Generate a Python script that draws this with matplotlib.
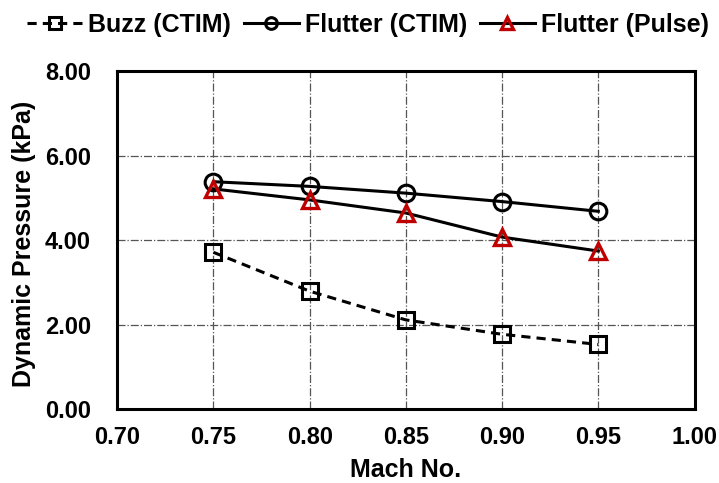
import matplotlib.pyplot as plt

plt.rcParams["font.family"] = ["Liberation Sans", "DejaVu Sans"]
plt.rcParams["font.weight"] = "bold"

mach = [0.75, 0.80, 0.85, 0.90, 0.95]
buzz_ctim = [3.71, 2.79, 2.11, 1.77, 1.53]
flutter_ctim = [5.38, 5.27, 5.11, 4.91, 4.68]
flutter_pulse = [5.21, 4.95, 4.64, 4.07, 3.74]

fig = plt.figure(figsize=(7.19, 4.83), dpi=100)
ax = fig.add_axes([0.163, 0.153, 0.803, 0.700])

ax.plot(mach, buzz_ctim, color="black", linewidth=2.2, dashes=(3, 2), marker="s",
        markersize=12, markerfacecolor="none", markeredgewidth=2.2, label="Buzz (CTIM)")
ax.plot(mach, flutter_ctim, "-", color="black", linewidth=2.2, marker="o",
        markersize=12, markerfacecolor="none", markeredgewidth=2.2, label="Flutter (CTIM)")
ax.plot(mach, flutter_pulse, "-", color="black", linewidth=2.2, marker="^",
        markersize=12, markerfacecolor="none", markeredgecolor="#c00000",
        markeredgewidth=2.4, label="Flutter (Pulse)")

ax.set_xlim(0.70, 1.00)
ax.set_ylim(0, 8)
ax.set_xticks([0.70, 0.75, 0.80, 0.85, 0.90, 0.95, 1.00])
ax.set_yticks([0, 2, 4, 6, 8])
ax.set_xticklabels([f"{v:.2f}" for v in ax.get_xticks()])
ax.set_yticklabels([f"{v:.2f}" for v in ax.get_yticks()])
ax.tick_params(length=0, labelsize=17)
ax.tick_params(axis="x", pad=12)
ax.tick_params(axis="y", pad=19)

ax.grid(True, color="#555555", linestyle="-.", linewidth=0.9)
ax.set_axisbelow(True)
for s in ax.spines.values():
    s.set_linewidth(2.2)

ax.set_xlabel("Mach No.", fontsize=18, fontweight="bold")
ax.set_ylabel("Dynamic Pressure (kPa)", fontsize=18, fontweight="bold")
ax.xaxis.set_label_coords(0.5, -0.145)
ax.yaxis.set_label_coords(-0.141, 0.49)

fig.legend(loc="center", bbox_to_anchor=(0.512, 0.948), ncol=3, frameon=False,
           fontsize=18, handlelength=2.2, columnspacing=0.5, handletextpad=0.25,
           markerscale=0.7)

fig.savefig("out.png", dpi=100)
